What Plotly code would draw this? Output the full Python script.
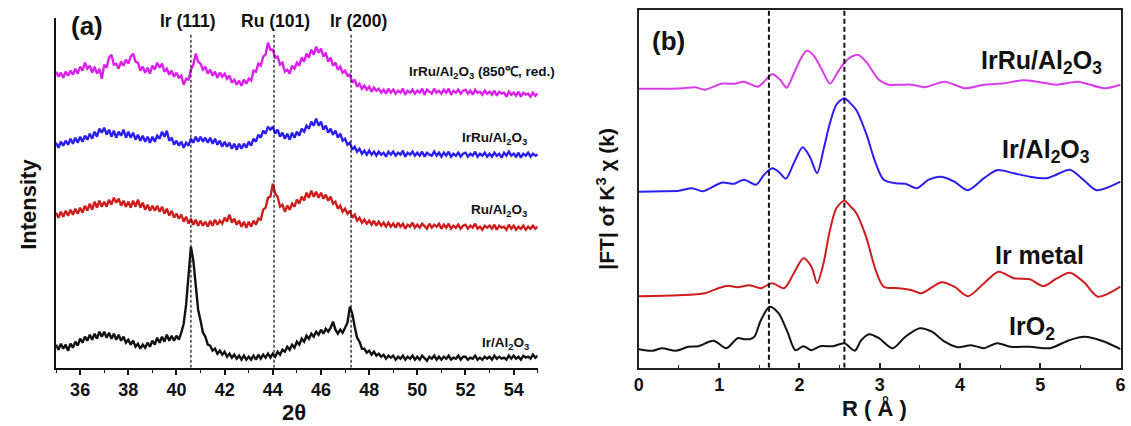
import plotly.graph_objects as go

W, H = 1131, 426
FONT = "Liberation Sans, Arial, sans-serif"

# ---------------- (a) XRD patterns, 2θ = 35.0 ... 55.0 in 0.1° steps ----------------
two_theta = [round(35 + 0.1 * i, 1) for i in range(201)]

xrd_irru_850 = [
    296, 291, 295, 290, 296, 292, 297, 293, 299, 294,
    301, 297, 305, 299, 302, 295, 301, 294, 299, 289,
    303, 300, 310, 313, 303, 304, 299, 306, 302, 308,
    304, 311, 314, 306, 305, 297, 301, 295, 300, 294,
    302, 298, 305, 300, 304, 296, 299, 293, 297, 291,
    295, 290, 292, 283, 289, 288, 298, 303, 314, 306,
    304, 298, 301, 294, 298, 292, 296, 290, 295, 291,
    294, 289, 292, 285, 288, 283, 287, 282, 288, 284,
    289, 287, 297, 296, 304, 302, 311, 313, 325, 318,
    318, 310, 311, 303, 305, 296, 298, 294, 302, 299,
    305, 302, 310, 306, 314, 310, 318, 313, 321, 315,
    319, 311, 315, 306, 310, 302, 305, 298, 301, 295,
    297, 292, 293, 285, 288, 281, 284, 279, 282, 278,
    281, 276, 280, 277, 279, 275, 278, 274, 279, 275,
    278, 274, 277, 275, 279, 273, 277, 275, 278, 274,
    277, 275, 279, 273, 278, 276, 274, 279, 275, 277,
    274, 278, 275, 279, 273, 277, 275, 278, 274, 277,
    278, 274, 277, 273, 278, 275, 276, 273, 277, 274,
    276, 273, 277, 272, 276, 274, 275, 271, 276, 273,
    275, 272, 276, 271, 275, 273, 274, 271, 275, 272,
    274,
]

xrd_irru = [
    225, 220, 226, 222, 227, 223, 229, 224, 230, 225,
    231, 226, 232, 228, 234, 229, 236, 231, 239, 235,
    240, 233, 238, 231, 237, 230, 236, 232, 238, 230,
    236, 230, 235, 228, 233, 227, 232, 226, 231, 225,
    231, 226, 232, 229, 236, 231, 237, 227, 230, 223,
    227, 222, 226, 220, 225, 222, 229, 225, 231, 226,
    231, 226, 230, 225, 230, 224, 229, 223, 227, 221,
    226, 221, 225, 219, 224, 218, 224, 219, 224, 220,
    226, 222, 229, 226, 233, 230, 237, 234, 241, 238,
    241, 234, 238, 231, 235, 229, 234, 228, 235, 230,
    236, 232, 239, 236, 242, 239, 246, 242, 249, 242,
    246, 238, 242, 235, 239, 233, 237, 230, 234, 227,
    229, 223, 225, 218, 221, 216, 219, 214, 217, 213,
    217, 213, 216, 212, 216, 213, 215, 211, 216, 213,
    216, 212, 215, 213, 217, 211, 215, 213, 216, 212,
    215, 212, 216, 211, 215, 213, 212, 216, 212, 215,
    211, 215, 212, 216, 211, 214, 212, 215, 211, 214,
    215, 211, 214, 212, 216, 211, 214, 212, 215, 211,
    214, 211, 215, 212, 214, 210, 215, 212, 216, 212,
    214, 211, 215, 210, 214, 212, 215, 211, 214, 212,
    213,
]

xrd_ru = [
    155, 150, 156, 151, 157, 152, 158, 153, 159, 154,
    160, 155, 162, 157, 164, 158, 166, 160, 167, 161,
    166, 161, 168, 163, 170, 165, 169, 162, 167, 161,
    166, 160, 167, 161, 168, 160, 165, 158, 163, 157,
    162, 157, 162, 156, 161, 154, 159, 152, 157, 150,
    154, 149, 153, 146, 151, 144, 149, 143, 148, 142,
    147, 142, 146, 141, 147, 142, 148, 143, 147, 144,
    150, 146, 153, 145, 149, 143, 147, 141, 146, 140,
    146, 141, 147, 143, 149, 148, 158, 160, 170, 171,
    184, 174, 171, 161, 163, 156, 162, 158, 164, 161,
    168, 164, 171, 167, 175, 170, 177, 171, 176, 170,
    175, 169, 173, 167, 171, 164, 166, 159, 162, 156,
    159, 154, 157, 150, 153, 147, 150, 145, 148, 144,
    147, 143, 147, 142, 146, 142, 145, 141, 145, 141,
    144, 140, 145, 141, 144, 139, 143, 141, 145, 140,
    143, 140, 144, 141, 139, 144, 140, 143, 141, 144,
    139, 143, 140, 144, 139, 142, 140, 143, 139, 142,
    143, 139, 142, 140, 144, 139, 141, 138, 142, 140,
    142, 139, 143, 138, 142, 140, 141, 138, 143, 139,
    142, 138, 141, 139, 142, 138, 141, 139, 142, 139,
    141,
]

xrd_ir = [
    23, 18, 24, 19, 23, 17, 24, 20, 26, 22,
    29, 25, 31, 27, 33, 28, 34, 29, 36, 31,
    36, 30, 35, 29, 34, 28, 33, 27, 31, 25,
    28, 23, 27, 21, 24, 19, 23, 20, 25, 21,
    27, 23, 30, 25, 31, 26, 33, 27, 32, 27,
    32, 28, 35, 44, 63, 96, 121, 107, 79, 58,
    47, 35, 31, 23, 22, 17, 19, 14, 17, 13,
    16, 11, 14, 10, 13, 9, 12, 8, 12, 8,
    11, 8, 12, 8, 13, 9, 13, 10, 14, 10,
    14, 11, 16, 13, 18, 16, 21, 18, 23, 20,
    26, 23, 29, 26, 32, 29, 34, 31, 36, 33,
    38, 34, 39, 36, 40, 46, 38, 34, 38, 35,
    40, 45, 61, 54, 41, 30, 26, 19, 19, 15,
    17, 13, 16, 12, 14, 11, 13, 9, 12, 10,
    12, 8, 11, 9, 12, 8, 11, 9, 12, 8,
    11, 8, 12, 9, 7, 11, 9, 12, 8, 11,
    8, 11, 9, 12, 8, 10, 9, 12, 8, 11,
    11, 8, 10, 9, 12, 8, 10, 8, 11, 9,
    11, 8, 12, 9, 11, 9, 10, 8, 12, 9,
    12, 9, 11, 8, 12, 10, 11, 9, 13, 10,
    12,
]

xrd_labels = ["IrRu/Al<sub>2</sub>O<sub>3</sub> (850\u2103, red.)",
              "IrRu/Al<sub>2</sub>O<sub>3</sub>",
              "Ru/Al<sub>2</sub>O<sub>3</sub>",
              "Ir/Al<sub>2</sub>O<sub>3</sub>"]
reflections = ["Ir (111)", "Ru (101)", "Ir (200)"]
reflection_pos = [40.6, 44.05, 47.25]

# ---------------- (b) EXAFS Fourier transforms ----------------
r_irru = [0, 0.3, 0.55, 0.7, 0.82, 1.03, 1.19, 1.31, 1.48, 1.56, 1.66, 1.76, 1.84, 1.93,
          2.01, 2.09, 2.17, 2.28, 2.38, 2.48, 2.56, 2.65, 2.73, 2.83, 2.99, 3.11, 3.25,
          3.4, 3.56, 3.81, 4.06, 4.3, 4.55, 4.79, 4.96, 5.2, 5.47, 5.8, 6.0]
ft_irru = [279, 279, 279.5, 280.5, 278, 284, 284, 286, 281, 286, 293.5, 288, 280, 294,
           308, 317, 313, 298, 284, 296, 305, 311, 313, 306, 288, 283, 283,
           283, 280.5, 286, 279.5, 283, 284.5, 287.5, 286, 283, 286, 279.5, 283]

r_ir = [0, 0.3, 0.5, 0.66, 0.8, 1.03, 1.19, 1.31, 1.46, 1.56, 1.66, 1.74, 1.83, 1.93,
        2.04, 2.13, 2.22, 2.3, 2.38, 2.46, 2.56, 2.64, 2.71, 2.83, 2.95, 3.05, 3.2,
        3.32, 3.46, 3.61, 3.77, 3.93, 4.1, 4.3, 4.46, 4.67, 4.87, 5.08, 5.2, 5.37,
        5.55, 5.7, 6.0]
ft_ir = [176, 176.5, 177, 179.5, 176.5, 185, 184, 188, 183, 193, 199.5, 196, 189, 204.5,
         220.5, 211, 194.5, 218, 244.5, 263, 269.5, 264, 257.5, 234.5, 204.5, 188, 184.5,
         184, 179.5, 188, 191, 186, 177.5, 189.5, 197.5, 194.5, 191, 189.5, 193, 198,
         187, 177.5, 186]

r_irmetal = [0, 0.5, 0.82, 0.99, 1.11, 1.23, 1.38, 1.52, 1.66, 1.81, 1.93, 2.05, 2.15,
             2.22, 2.3, 2.38, 2.46, 2.56, 2.64, 2.71, 2.83, 2.95, 3.05, 3.24, 3.4, 3.52,
             3.77, 3.93, 4.1, 4.3, 4.48, 4.67, 4.87, 5.04, 5.2, 5.37, 5.55, 5.72, 6.0]
ft_irmetal = [71.5, 72.5, 74.5, 79.5, 82, 80.5, 82.5, 79.5, 84.5, 79.5, 94.5, 109.5, 101,
              84.5, 104.5, 137.5, 159.5, 167, 161, 154.5, 131, 97.5, 81, 79.5, 77.5, 74.5,
              85.5, 81, 71.5, 84.5, 96, 89.5, 88.5, 81.5, 89, 95, 85, 71, 81]

r_iro2 = [0, 0.17, 0.29, 0.46, 0.62, 0.74, 0.93, 1.09, 1.23, 1.31, 1.38, 1.44, 1.52, 1.63,
          1.74, 1.85, 1.95, 2.05, 2.15, 2.26, 2.42, 2.56, 2.69, 2.77, 2.87, 2.99, 3.16,
          3.32, 3.5, 3.65, 3.81, 3.97, 4.14, 4.3, 4.46, 4.63, 4.87, 5.12, 5.36, 5.55,
          5.8, 6.0]
ft_iro2 = [18.5, 17, 19.5, 17, 21, 21.5, 27, 19.5, 29.5, 28.5, 28.5, 31, 47.5, 61,
           54.5, 36, 17.5, 21.5, 17.5, 21.5, 21.5, 24.5, 17, 27.5, 33.5, 29.5, 19.5,
           31, 39.5, 36, 26, 20.5, 22.5, 19.5, 24.5, 21, 21, 19.5, 27.5, 31,
           26, 18.5]

exafs_labels = ["IrRu/Al<sub>2</sub>O<sub>3</sub>", "Ir/Al<sub>2</sub>O<sub>3</sub>",
                "Ir metal", "IrO<sub>2</sub>"]
shell_pos = [1.62, 2.56]

C_MAG, C_BLUE, C_RED, C_BLACK = "#dc1ef0", "#2b1ef2", "#cf1d1d", "#111111"
C_MAG_B = "#d83ce8"


def px(x):
    return x / W


def py(y):
    return 1 - y / H


fig = go.Figure()

for ys, col in [(xrd_irru_850, C_MAG), (xrd_irru, C_BLUE), (xrd_ru, C_RED), (xrd_ir, C_BLACK)]:
    fig.add_trace(go.Scatter(x=two_theta, y=ys, mode="lines", xaxis="x", yaxis="y",
                             line=dict(color=col, width=2.4), showlegend=False,
                             hoverinfo="skip"))

for rs, vs, col in [(r_irru, ft_irru, C_MAG_B), (r_ir, ft_ir, C_BLUE),
                    (r_irmetal, ft_irmetal, C_RED), (r_iro2, ft_iro2, C_BLACK)]:
    fig.add_trace(go.Scatter(x=rs, y=vs, mode="lines", xaxis="x2", yaxis="y2",
                             line=dict(color=col, width=2, shape="spline", smoothing=0.8),
                             showlegend=False, hoverinfo="skip"))

shapes = []
for xv in reflection_pos:
    shapes.append(dict(type="line", xref="x", yref="y", x0=xv, x1=xv, y0=0, y1=333,
                       line=dict(color="#222", width=1.3, dash="3px,2px"), layer="above"))
for xv in shell_pos:
    shapes.append(dict(type="line", xref="x2", yref="y2", x0=xv, x1=xv, y0=0, y1=357.7,
                       line=dict(color="#111", width=2, dash="5px,3px"), layer="above"))

annotations = []


def label(text, x, y, size, xanchor="center", angle=0, bold=True):
    annotations.append(dict(text=f"<b>{text}</b>" if bold else text,
                            x=px(x), y=py(y), xref="paper", yref="paper",
                            xanchor=xanchor, yanchor="middle", showarrow=False,
                            textangle=angle,
                            font=dict(family=FONT, size=size, color="#111")))


label("(a)", 83, 26, 26)
for txt, xc in zip(reflections, [184, 273, 357]):
    label(txt, xc, 21, 17.5)
for txt, xr, yc in zip(xrd_labels, [557, 529, 529, 531], [72, 138, 211, 343]):
    label(txt, xr, yc, 13.5, xanchor="right")
label("Intensity", 23, 204, 22)
annotations[-1]["textangle"] = -90
label("2\u03b8", 292, 412, 22)

label("(b)", 669, 41, 26)
for txt, xc, yc in zip(exafs_labels, [1046, 1050, 1044, 1036], [62, 151, 255, 328]):
    label(txt, xc, yc, 25)
label("|FT| of K<sup>3</sup> \u03c7 (k)", 606, 199, 21, angle=-90)
label("R ( \u00c5 )", 877, 408, 22)

tickfont = dict(family=FONT, size=18, color="#111", weight="bold")

fig.update_layout(
    width=W, height=H,
    margin=dict(l=0, r=0, t=0, b=0),
    paper_bgcolor="white", plot_bgcolor="white",
    xaxis=dict(domain=[px(51.5), px(537.5)], range=[35, 55], anchor="y",
               showline=True, linecolor="#111", linewidth=2, mirror=False,
               ticks="outside", ticklen=5, tickwidth=1.5, tickcolor="#111",
               tickvals=[36, 38, 40, 42, 44, 46, 48, 50, 52, 54],
               minor=dict(ticks="outside", ticklen=3, tickwidth=1, tickcolor="#111",
                          tickvals=[35, 37, 39, 41, 43, 45, 47, 49, 51, 53, 55]),
               tickfont=tickfont, showgrid=False, zeroline=False),
    yaxis=dict(domain=[py(367.7), py(17.7)], range=[0, 350], anchor="x",
               showline=True, linecolor="#111", linewidth=1.5, mirror=False,
               ticks="", showticklabels=False, showgrid=False, zeroline=False),
    xaxis2=dict(domain=[px(639.5), px(1125.5)], range=[0, 6], anchor="y2",
                showline=True, linecolor="#222", linewidth=1.5, mirror=True,
                ticks="inside", ticklen=5, tickwidth=1.5, tickcolor="#222",
                tickvals=[0, 1, 2, 3, 4, 5, 6], ticklabeloverflow="allow",
                minor=dict(ticks="inside", ticklen=3, tickwidth=1, tickcolor="#222",
                           tickvals=[0.5, 1.5, 2.5, 3.5, 4.5, 5.5]),
                tickfont=tickfont, showgrid=False, zeroline=False),
    yaxis2=dict(domain=[py(367.7), py(10)], range=[0, 357.7], anchor="x2",
                showline=True, linecolor="#222", linewidth=1.5, mirror=True,
                ticks="", showticklabels=False, showgrid=False, zeroline=False),
    shapes=shapes,
    annotations=annotations,
)

fig.write_html("out.html")
